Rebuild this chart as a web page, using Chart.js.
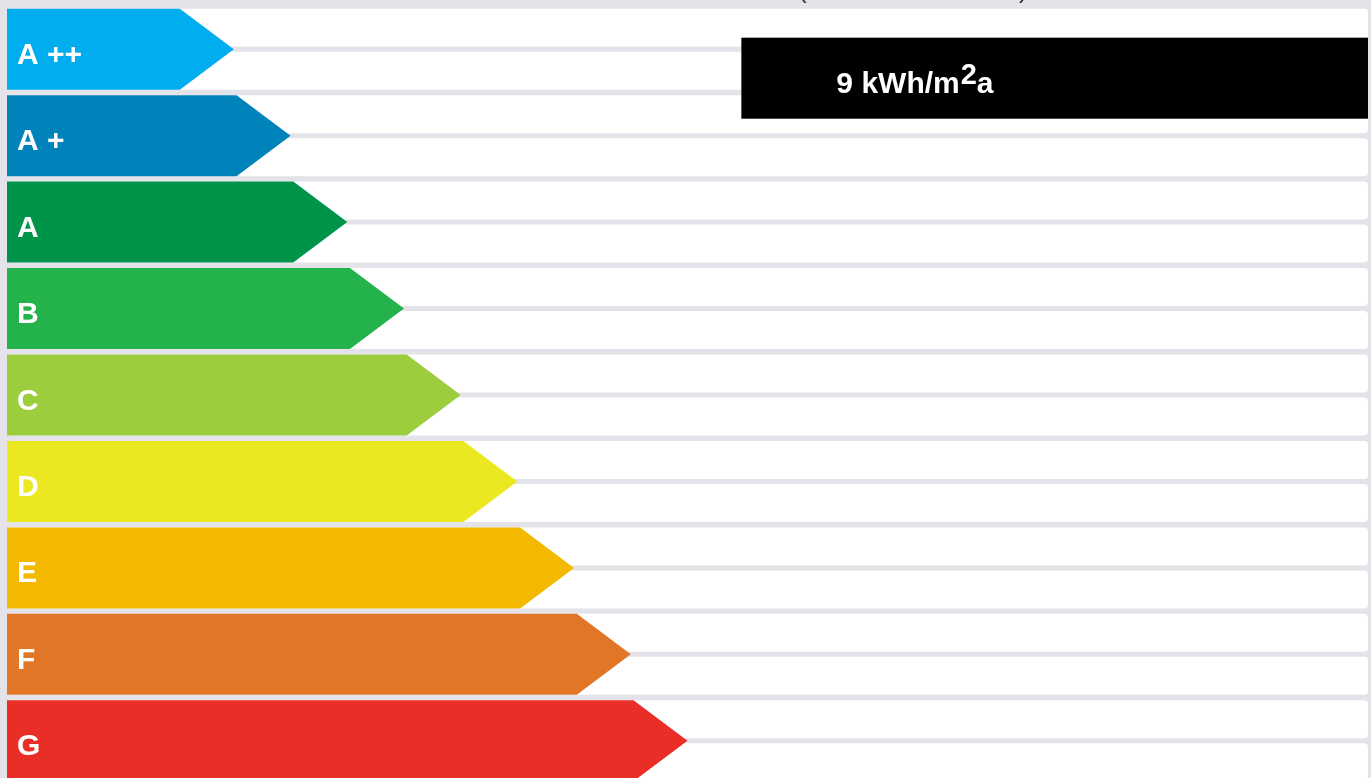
<!DOCTYPE html>
<html>
<head>
<meta charset="utf-8">
<script src="https://cdn.jsdelivr.net/npm/chart.js@4/dist/chart.umd.min.js"></script>
<style>
html,body{margin:0;padding:0;overflow:hidden;background:#e3e3e9;width:1371px;height:778px}
#wrap{position:absolute;left:0;top:0;width:1371px;height:790px}
</style>
</head>
<body>
<div id="wrap"><canvas id="c"></canvas></div>
<script>
// ---- data ----
const classes = ['A ++', 'A +', 'A', 'B', 'C', 'D', 'E', 'F', 'G'];
const arrowLengths = [4, 5, 6, 7, 8, 9, 10, 11, 12];
const classColors = ['#00adef', '#0082bb', '#00934a', '#23b24b', '#9ccd3c', '#ebe822', '#f2b900', '#e07626', '#e92e28'];
const scaleMax = 24;
const markerValueText = '9 kWh/m';
const markerSup = '2';
const markerSuffix = 'a';
const markerStart = 12.95;   // x-value where the marker box begins
const markerRow = 0.335;     // category position of the marker box

const FONT = '"Liberation Sans", Arial, Helvetica, sans-serif';

const rowsPlugin = {
  id: 'rows',
  beforeDatasetsDraw(chart) {
    const {ctx, chartArea, scales} = chart;
    const meta = chart.getDatasetMeta(0);
    ctx.save();
    ctx.fillStyle = '#ffffff';
    meta.data.forEach((el, i) => {
      const c = scales.y.getPixelForValue(i);
      const h = el.height / 2;
      const w = chartArea.right - chartArea.left;
      ctx.beginPath();
      ctx.roundRect(chartArea.left, c - h, w, h - 2.5, 4);
      ctx.roundRect(chartArea.left, c + 2.5, w, h - 2.5, 4);
      ctx.fill();
    });
    ctx.restore();
  }
};

const arrowPlugin = {
  id: 'arrows',
  afterDatasetsDraw(chart) {
    const {ctx, chartArea, scales} = chart;
    const meta = chart.getDatasetMeta(0);
    ctx.save();
    meta.data.forEach((el, i) => {
      const top = el.y - el.height / 2, bot = el.y + el.height / 2;
      const tip = el.x, neck = el.x - 54;
      ctx.fillStyle = classColors[i];
      ctx.beginPath();
      ctx.moveTo(el.base, top);
      ctx.lineTo(neck, top);
      ctx.lineTo(tip, el.y);
      ctx.lineTo(neck, bot);
      ctx.lineTo(el.base, bot);
      ctx.closePath();
      ctx.fill();
      ctx.fillStyle = '#ffffff';
      ctx.font = 'bold 30px ' + FONT;
      ctx.textBaseline = 'alphabetic';
      ctx.textAlign = 'left';
      ctx.fillText(classes[i], el.base + 10, el.y + 14.5);
    });

    // marker box
    const yc = scales.y.getPixelForValue(markerRow);
    const bh = meta.data[0].height;
    const bx = scales.x.getPixelForValue(markerStart);
    ctx.fillStyle = '#000000';
    ctx.fillRect(bx, yc - bh / 2, chartArea.right - bx, bh);
    ctx.fillStyle = '#ffffff';
    ctx.font = 'bold 30px ' + FONT;
    let tx = bx + 95;
    const base = yc + 14.5;
    ctx.fillText(markerValueText, tx, base);
    tx += ctx.measureText(markerValueText).width + 1;
    ctx.font = 'bold 29px ' + FONT;
    ctx.fillText(markerSup, tx, base - 9);
    tx += ctx.measureText(markerSup).width;
    ctx.font = 'bold 30px ' + FONT;
    ctx.fillText(markerSuffix, tx, base);

    // cut-off heading parentheses at the very top
    ctx.fillStyle = '#333333';
    ctx.font = '26px ' + FONT;
    ctx.fillText('(', 798, -2);
    ctx.fillText(')', 1019, -2);
    ctx.restore();
  }
};

new Chart(document.getElementById('c'), {
  type: 'bar',
  data: {
    labels: classes,
    datasets: [{
      data: arrowLengths,
      backgroundColor: 'rgba(0,0,0,0)',
      borderWidth: 0,
      barPercentage: 0.937,
      categoryPercentage: 1
    }]
  },
  options: {
    indexAxis: 'y',
    responsive: true,
    maintainAspectRatio: false,
    animation: false,
    layout: {padding: {left: 7, right: 3, top: 6, bottom: 6}},
    plugins: {legend: {display: false}, tooltip: {enabled: false}, title: {display: false}},
    scales: {
      x: {display: false, min: 0, max: scaleMax},
      y: {display: false}
    }
  },
  plugins: [rowsPlugin, arrowPlugin]
});
</script>
</body>
</html>
